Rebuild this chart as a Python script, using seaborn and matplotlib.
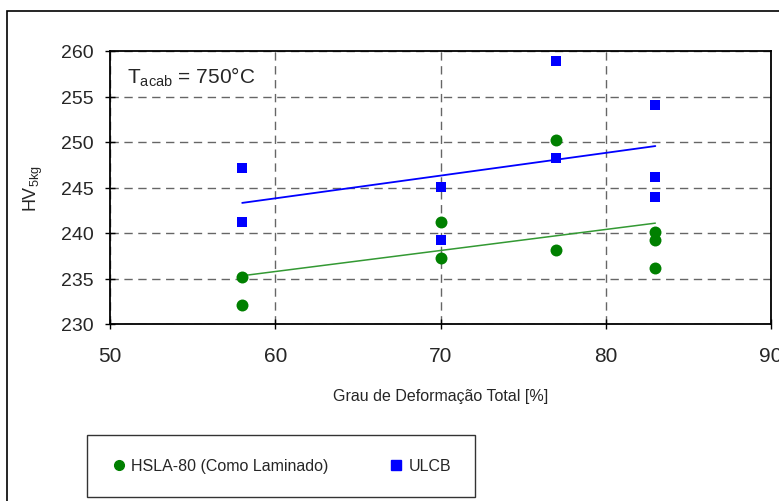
import seaborn as sns
import numpy as np
import matplotlib.pyplot as plt
import pandas as pd
from matplotlib.patches import Rectangle

# data
hsla_x = [58, 58, 70, 70, 77, 77, 83, 83, 83]
hsla_y = [235.2, 232.1, 241.2, 237.2, 250.2, 238.1, 240.1, 239.2, 236.1]
ulcb_x = [58, 58, 70, 70, 77, 77, 83, 83, 83]
ulcb_y = [247.1, 241.2, 245.1, 239.2, 258.9, 248.2, 254.1, 246.2, 244.0]
series = ["HSLA-80 (Como Laminado)", "ULCB"]
x_ticks = [50, 60, 70, 80, 90]
y_ticks = [230, 235, 240, 245, 250, 255, 260]

df = pd.DataFrame({
    "x": hsla_x + ulcb_x,
    "y": hsla_y + ulcb_y,
    "serie": [series[0]] * len(hsla_x) + [series[1]] * len(ulcb_x),
})

sns.set_style("white")
plt.rcParams['font.family'] = ['Liberation Sans', 'DejaVu Sans']
plt.rcParams['mathtext.fontset'] = 'custom'
plt.rcParams['mathtext.rm'] = 'Liberation Sans'
plt.rcParams['mathtext.it'] = 'Liberation Sans'

fig = plt.figure(figsize=(7.79, 5.02), dpi=100)
ax = fig.add_axes([110 / 779, 1 - 325 / 502, 661 / 779, 273 / 502])

colors = {series[0]: "#008000", series[1]: "#0000ff"}

# trend lines
sns.regplot(x=hsla_x, y=hsla_y, ax=ax, scatter=False, ci=None, truncate=True,
            line_kws=dict(color="#339933", lw=1.1))
sns.regplot(x=ulcb_x, y=ulcb_y, ax=ax, scatter=False, ci=None, truncate=True,
            line_kws=dict(color="#0000ff", lw=1.3))

sns.scatterplot(data=df[df.serie == series[0]], x="x", y="y", color=colors[series[0]],
                marker="o", s=74, linewidth=0, ax=ax, zorder=3, legend=False)
sns.scatterplot(data=df[df.serie == series[1]], x="x", y="y", color=colors[series[1]],
                marker="s", s=60, linewidth=0, ax=ax, zorder=3, legend=False)

ax.set_xlim(50, 90)
ax.set_ylim(230, 260)
ax.set_xticks(x_ticks)
ax.set_yticks(y_ticks)
ax.tick_params(length=7, width=1, direction="inout", color="black",
               left=True, bottom=True)
ax.tick_params(axis="y", labelsize=14, pad=8)
ax.tick_params(axis="x", labelsize=15, pad=12)
ax.grid(True, color="#666666", linestyle=(0, (6, 4)), linewidth=1)
for s in ax.spines.values():
    s.set_color("black")
    s.set_linewidth(1.3)

ax.set_xlabel("Grau de Deformação Total [%]", fontsize=11.5, labelpad=17)
ax.set_ylabel(r"HV$_{\mathrm{5kg}}$", fontsize=13, labelpad=12)
ax.text(0.026, 0.885, r"T$_{\mathrm{acab}}$ = 750°C", transform=ax.transAxes,
        fontsize=15, ha="left", va="baseline")

# legend at the bottom, boxed
handles = [
    plt.Line2D([], [], marker="o", color="#008000", ls="", markersize=7),
    plt.Line2D([], [], marker="s", color="#0000ff", ls="", markersize=6.5),
]
leg = fig.legend(handles, series, loc="center", ncol=2,
                 bbox_to_anchor=(281 / 779, 1 - 467 / 502),
                 fontsize=11.5,
                 frameon=True, fancybox=False, edgecolor="black",
                 borderpad=1.5, borderaxespad=0, columnspacing=3.7,
                 handletextpad=0.3, handlelength=1.0)
leg.get_frame().set_linewidth(1)

# outer chart border
fig.patches.append(Rectangle((7 / 779, -0.1), 1.2, 1 - 12 / 502 + 0.1,
                             transform=fig.transFigure, fill=False,
                             edgecolor="black", lw=1.2, figure=fig))

fig.savefig("out.png", dpi=100)
